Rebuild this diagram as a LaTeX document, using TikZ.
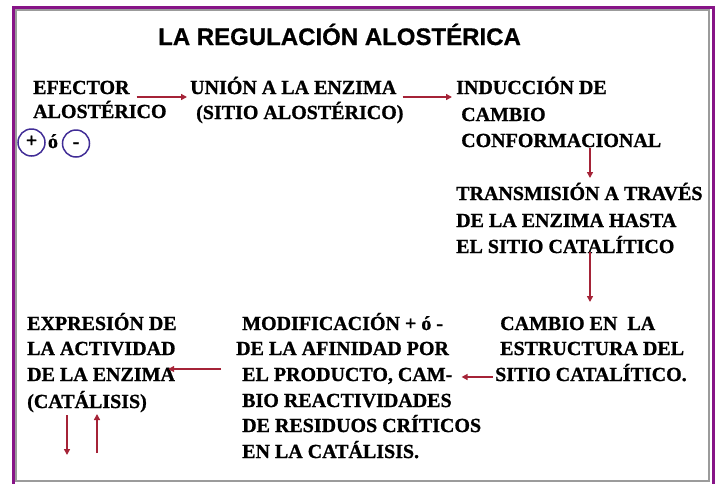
\documentclass[tikz,border=0pt]{standalone}
\usepackage{fontspec}
\setmainfont{Liberation Serif}[BoldFeatures={FakeBold=1}]
\newfontfamily\titlefont{Liberation Sans}[BoldFeatures={FakeBold=0.6}]
\usetikzlibrary{arrows.meta}
\definecolor{framepurple}{RGB}{135,20,135}
\definecolor{framegrey}{RGB}{155,155,155}
\definecolor{arrred}{RGB}{165,35,55}
\definecolor{circblue}{RGB}{65,45,150}
\begin{document}
\begin{tikzpicture}[x=1pt,y=-1pt,
  txt/.style={anchor=base west,inner sep=0pt,font=\fontsize{20}{25}\selectfont\bfseries},
  arr/.style={draw=arrred,line width=2pt,-{Triangle[length=6pt,width=6pt]}},
  signc/.style={circle,draw=circblue,line width=1.5pt,minimum size=27pt,inner sep=0pt,text height=9pt,text depth=0pt,font=\fontsize{20}{24}\selectfont\bfseries}]
\useasboundingbox (0,0) rectangle (723,483);
% frame
\draw[framegrey,line width=2pt] (16,10) rectangle (709,481);
\draw[framepurple,line width=3pt] (13.5,486) -- (13.5,7.5) -- (713.5,7.5) -- (713.5,486);
% title
\node[anchor=base west,inner sep=0pt,font=\titlefont\fontsize{24}{28}\selectfont\bfseries] (title) at (158,45) {LA REGULACIÓN ALOSTÉRICA};
% blocks
\node[txt] (ef1) at (33,94) {EFECTOR};
\node[txt] (ef2) at (33,118) {ALOSTÉRICO};
\node[signc] (pl) at (31.5,142.5) {+};
\node[anchor=base,inner sep=0pt,font=\fontsize{20}{24}\selectfont\bfseries] (oo) at (53,148) {ó};
\node[signc] (mi) at (76,143.5) {-};
\node[txt] (un1) at (190,94) {UNIÓN A LA ENZIMA};
\node[txt] (un2) at (196,119) {(SITIO ALOSTÉRICO)};
\node[txt] (in1) at (456,94) {INDUCCIÓN DE};
\node[txt] (in2) at (461,121) {CAMBIO};
\node[txt] (in3) at (461,147) {CONFORMACIONAL};
\node[txt] (tr1) at (456,200) {TRANSMISIÓN A TRAVÉS};
\node[txt] (tr2) at (456,227) {DE LA ENZIMA HASTA};
\node[txt] (tr3) at (456,253) {EL SITIO CATALÍTICO};
\node[txt] (ca1) at (500,330) {CAMBIO EN\ \ LA};
\node[txt] (ca2) at (500,355) {ESTRUCTURA DEL};
\node[txt] (ca3) at (495,381) {SITIO CATALÍTICO.};
\node[txt] (mo1) at (242,330) {MODIFICACIÓN + ó -};
\node[txt] (mo2) at (236,355) {DE LA AFINIDAD POR};
\node[txt] (mo3) at (242,381) {EL PRODUCTO, CAM-};
\node[txt] (mo4) at (242,407) {BIO REACTIVIDADES};
\node[txt] (mo5) at (242,432) {DE RESIDUOS CRÍTICOS};
\node[txt] (mo6) at (242,458) {EN LA CATÁLISIS.};
\node[txt] (ex1) at (27,330) {EXPRESIÓN DE};
\node[txt] (ex2) at (27,355) {LA ACTIVIDAD};
\node[txt] (ex3) at (27,381) {DE LA ENZIMA};
\node[txt] (ex4) at (27,408) {(CATÁLISIS)};
\coordinate (downend) at ([xshift=40pt,yshift=-47pt]ex4.base west);
\coordinate (upstart) at ([xshift=70pt,yshift=-45pt]ex4.base west);
% connectors
\draw[arr] ([xshift=7pt,yshift=-3pt]ef1.base east) -- ([xshift=-3pt,yshift=-3pt]un1.base west);
\draw[arr] ([xshift=6pt,yshift=-3pt]un1.base east) -- ([xshift=-4pt,yshift=-3pt]in1.base west);
\draw[arr] ([xshift=129pt,yshift=-1pt]in3.base west) -- ([xshift=134pt,yshift=22pt]tr1.base west);
\draw[arr] ([xshift=134pt,yshift=1pt]tr3.base west) -- ([xshift=90pt,yshift=28pt]ca1.base west);
\draw[arr] ([xshift=-2pt,yshift=4pt]ca3.base west) -- ([xshift=9pt,yshift=4pt]mo3.base east);
\draw[arr] ([xshift=-21pt,yshift=12pt]mo3.base west) -- ([xshift=-7pt,yshift=12pt]ex3.base east);
\draw[arr] ([xshift=40pt,yshift=-7pt]ex4.base west) -- (downend);
\draw[arr] (upstart) -- ([xshift=70pt,yshift=-6pt]ex4.base west);
\end{tikzpicture}
\end{document}
